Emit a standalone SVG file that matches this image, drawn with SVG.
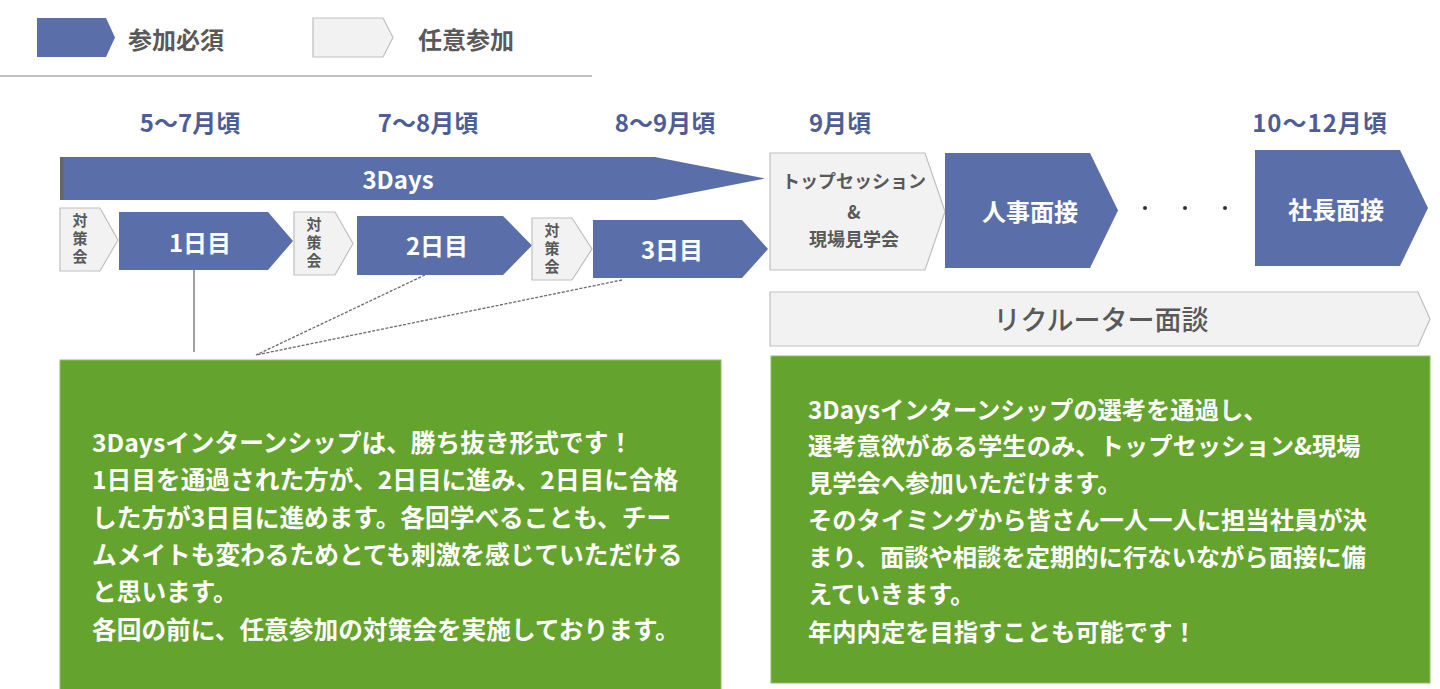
<svg xmlns="http://www.w3.org/2000/svg" width="1440" height="689" viewBox="0 0 1440 689">
<style>
text{font-family:"Noto Sans CJK JP","Noto Sans",sans-serif;font-weight:bold;dominant-baseline:central}
.blue{fill:#5a6faa;stroke:none}
.gray{fill:#f2f2f2;stroke:#bfbfbf;stroke-width:1.2}
.green{fill:#64a32d;stroke:#8fbf6a;stroke-width:1}
.lbl{fill:#595959;font-size:24px}
.wt{fill:#ffffff;font-size:24px;text-anchor:middle}
.gt{fill:#595959;text-anchor:middle}
.vt{fill:#595959;text-anchor:middle;font-size:15px;writing-mode:vertical-rl;letter-spacing:3px}
.date{fill:#4e5d96;text-anchor:middle;font-size:24px}
.body{fill:#ffffff;font-size:24.7px}
.body2{fill:#ffffff;font-size:24.3px}
.conn{stroke:#6b6b6b;stroke-width:1.3;fill:none}
</style>
<rect width="1440" height="689" fill="#ffffff"/>
<g id="legend">
<polygon class="blue" points="37,18 106,18 115,37.5 106,57 37,57"/>
<text class="lbl" x="128" y="38">参加必須</text>
<polygon class="gray" points="313,18 383,18 393,37.5 383,57 313,57"/>
<text class="lbl" x="418" y="38">任意参加</text>
<line x1="0" y1="76" x2="592" y2="76" stroke="#bfbfbf" stroke-width="2"/>
</g>
<g id="dates">
<text class="date" x="190" y="121">5～7月頃</text>
<text class="date" x="428" y="121">7～8月頃</text>
<text class="date" x="665" y="121">8～9月頃</text>
<text class="date" x="840" y="121">9月頃</text>
<text class="date" x="1320" y="121" letter-spacing="1">10～12月頃</text>
</g>
<g id="threedays">
<polygon class="blue" points="60,157 655,157 765,178.5 655,200 60,200"/>
<rect x="60" y="157" width="3.5" height="43" fill="#666"/>
<text class="wt" x="398" y="178" font-size="26">3Days</text>
</g>
<g id="prep1">
<polygon class="gray" points="60,208 100,208 118,240 100,271 60,271"/>
<text class="vt" x="80" y="240">対策会</text>
</g>
<g id="day1">
<polygon class="blue" points="119,212 268,212 293,241 268,270 119,270"/>
<text class="wt" x="200" y="241" font-size="25">1日目</text>
</g>
<g id="prep2">
<polygon class="gray" points="294,212 335,212 353,243.5 335,275 294,275"/>
<text class="vt" x="314" y="244">対策会</text>
</g>
<g id="day2">
<polygon class="blue" points="357,216 503,216 532,245.5 503,275 357,275"/>
<text class="wt" x="437" y="244" font-size="25">2日目</text>
</g>
<g id="prep3">
<polygon class="gray" points="532,218 572,218 592,249 572,280 532,280"/>
<text class="vt" x="552" y="250">対策会</text>
</g>
<g id="day3">
<polygon class="blue" points="593,220 742,220 768,249 742,278 593,278"/>
<text class="wt" x="672" y="248" font-size="25">3日目</text>
</g>
<g id="topsession">
<polygon class="gray" points="770,153 925,153 945,211.5 925,270 770,270"/>
<text class="gt" x="854" y="180" font-size="18">トップセッション</text>
<text class="gt" x="854" y="211" font-size="18">&amp;</text>
<text class="gt" x="854" y="238" font-size="18">現場見学会</text>
</g>
<g id="hr">
<polygon class="blue" points="945,153 1090,153 1118,210.5 1090,268 945,268"/>
<text class="wt" x="1030" y="210">人事面接</text>
</g>
<g id="dots" fill="#333">
<circle cx="1145" cy="208" r="2"/>
<circle cx="1185" cy="208" r="2"/>
<circle cx="1225" cy="208" r="2"/>
</g>
<g id="ceo">
<polygon class="blue" points="1255,150 1400,150 1428,208 1400,266 1255,266"/>
<text class="wt" x="1336" y="208">社長面接</text>
</g>
<g id="recruiter">
<polygon class="gray" points="770,292 1418,292 1430,319 1418,346 770,346"/>
<text class="gt" x="1101" y="318" font-size="27" style="font-weight:500">リクルーター面談</text>
</g>
<g id="connectors">
<line class="conn" x1="194" y1="270" x2="194" y2="352"/>
<line class="conn" x1="425" y1="275" x2="256" y2="355" stroke-dasharray="3,1.5"/>
<line class="conn" x1="622" y1="280" x2="256" y2="355" stroke-dasharray="3,1.5"/>
</g>
<g id="note-left">
<rect class="green" x="60" y="360" width="661" height="335"/>
<text class="body" x="92" y="441">3Daysインターンシップは、勝ち抜き形式です！</text>
<text class="body" x="92" y="478">1日目を通過された方が、2日目に進み、2日目に合格</text>
<text class="body" x="92" y="516">した方が3日目に進めます。各回学べることも、チー</text>
<text class="body" x="92" y="553">ムメイトも変わるためとても刺激を感じていただける</text>
<text class="body" x="92" y="590">と思います。</text>
<text class="body" x="92" y="628">各回の前に、任意参加の対策会を実施しております。</text>
</g>
<g id="note-right">
<rect class="green" x="771" y="356" width="659" height="327"/>
<text class="body2" x="808" y="408">3Daysインターンシップの選考を通過し、</text>
<text class="body2" x="808" y="444">選考意欲がある学生のみ、トップセッション&amp;現場</text>
<text class="body2" x="808" y="481">見学会へ参加いただけます。</text>
<text class="body2" x="808" y="518">そのタイミングから皆さん一人一人に担当社員が決</text>
<text class="body2" x="808" y="555">まり、面談や相談を定期的に行ないながら面接に備</text>
<text class="body2" x="808" y="592">えていきます。</text>
<text class="body2" x="808" y="630">年内内定を目指すことも可能です！</text>
</g>
</svg>
